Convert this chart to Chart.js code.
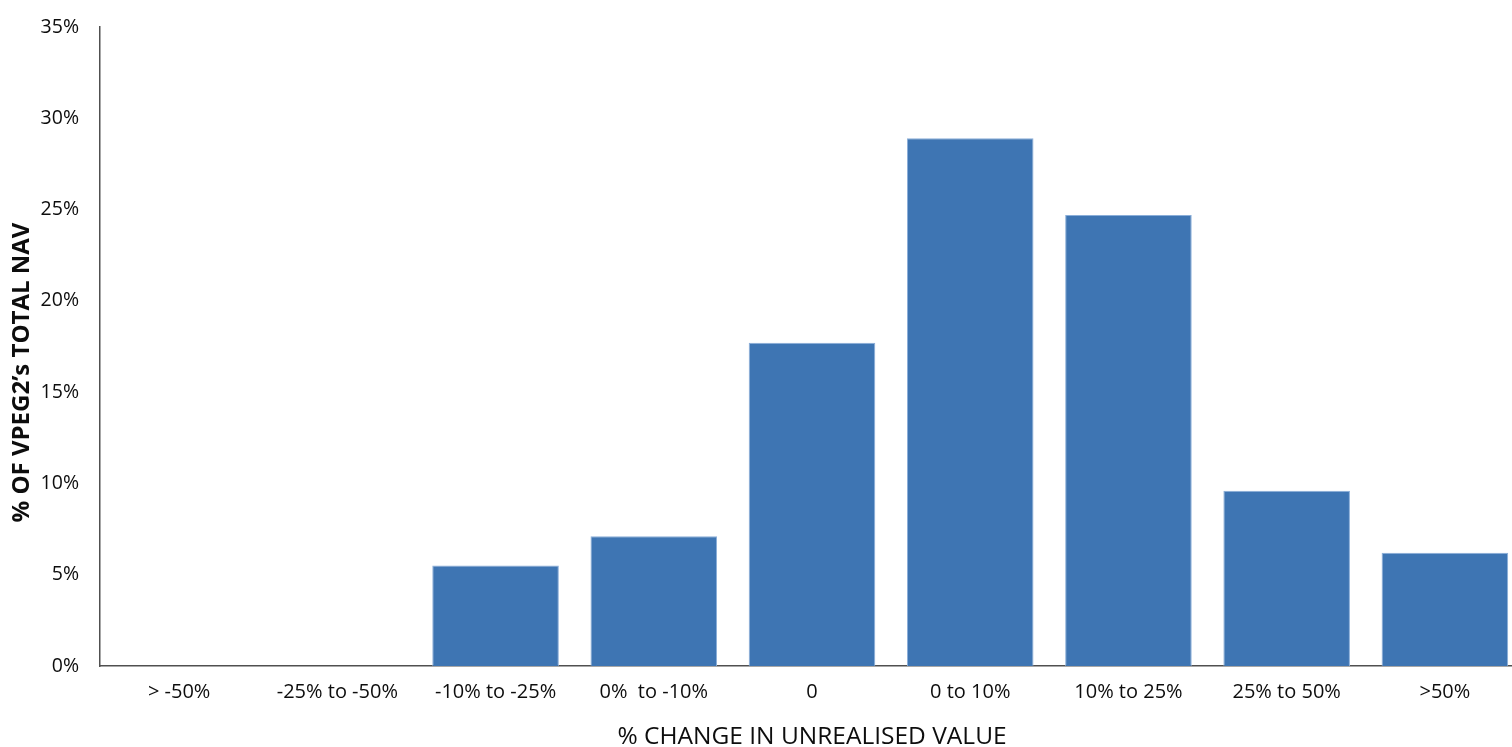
<!DOCTYPE html>
<html>
<head>
<meta charset="utf-8">
<script src="https://cdn.jsdelivr.net/npm/chart.js@4.4.1/dist/chart.umd.min.js"></script>
<style>
  html, body { margin: 0; padding: 0; background: #fff; overflow: hidden; }
  #wrap { width: 1524px; height: 747px; position: relative; }
</style>
</head>
<body>
<div id="wrap"><canvas id="chart"></canvas></div>
<script>
// Distribution of NAV by change in unrealised value
const categories = ['> -50%', '-25% to -50%', '-10% to -25%', '0%  to -10%', '0', '0 to 10%', '10% to 25%', '25% to 50%', '>50%'];
const navShare = [0, 0, 5.5, 7.1, 17.7, 28.9, 24.7, 9.6, 6.2];
const yTicks = [0, 5, 10, 15, 20, 25, 30, 35];
const yTitle = '% OF VPEG2\u2019s TOTAL NAV';
const xTitle = '% CHANGE IN UNREALISED VALUE';

const FONT = '"Open Sans", "DejaVu Sans", sans-serif';
const TEXT = '#0d0d0d';
const AXIS = '#505050';

// Vertical axis title, drawn rotated beside the tick labels and sitting a little below centre
const yTitlePlugin = {
  id: 'yTitle',
  afterDraw(chart) {
    const { ctx, chartArea } = chart;
    const cy = (chartArea.top + chartArea.bottom) / 2 + 26;
    ctx.save();
    ctx.translate(22, cy);
    ctx.rotate(-Math.PI / 2);
    ctx.font = 'bold 24px ' + FONT;
    ctx.fillStyle = TEXT;
    ctx.textAlign = 'center';
    ctx.textBaseline = 'middle';
    ctx.fillText(yTitle, 0, 0);
    ctx.restore();
  }
};

new Chart(document.getElementById('chart'), {
  type: 'bar',
  data: {
    labels: categories,
    datasets: [{
      data: navShare,
      backgroundColor: '#3e75b3',
      borderColor: '#8aaed9',
      borderWidth: 1,
      barPercentage: 0.8,
      categoryPercentage: 1.0
    }]
  },
  plugins: [yTitlePlugin],
  options: {
    responsive: true,
    maintainAspectRatio: false,
    animation: false,
    layout: { padding: { top: 27, right: 0, bottom: 0, left: 0 } },
    plugins: { legend: { display: false }, tooltip: { enabled: false } },
    scales: {
      x: {
        grid: { display: false, drawTicks: false },
        border: { display: true, color: AXIS, width: 1.5 },
        ticks: { color: TEXT, font: { family: FONT, size: 20 }, padding: 14, maxRotation: 0, autoSkip: false },
        title: {
          display: true,
          text: xTitle,
          color: TEXT,
          font: { family: FONT, size: 24.5, lineHeight: 0.85 },
          padding: { top: 0, bottom: 0 }
        },
        afterFit(scale) { scale.height = 81; }
      },
      y: {
        min: 0,
        max: 35,
        afterBuildTicks(scale) { scale.ticks = yTicks.map(v => ({ value: v })); },
        grid: { display: false, drawTicks: false },
        border: { display: true, color: AXIS, width: 1.5 },
        ticks: {
          color: TEXT,
          font: { family: FONT, size: 19.5 },
          padding: 21,
          callback: v => v + '%'
        },
        afterFit(scale) {
          scale.width = 100;
          // let the layout padding alone decide where the plot starts
          scale.paddingTop = 0;
          scale.paddingBottom = 0;
        }
      }
    }
  }
});
</script>
</body>
</html>
